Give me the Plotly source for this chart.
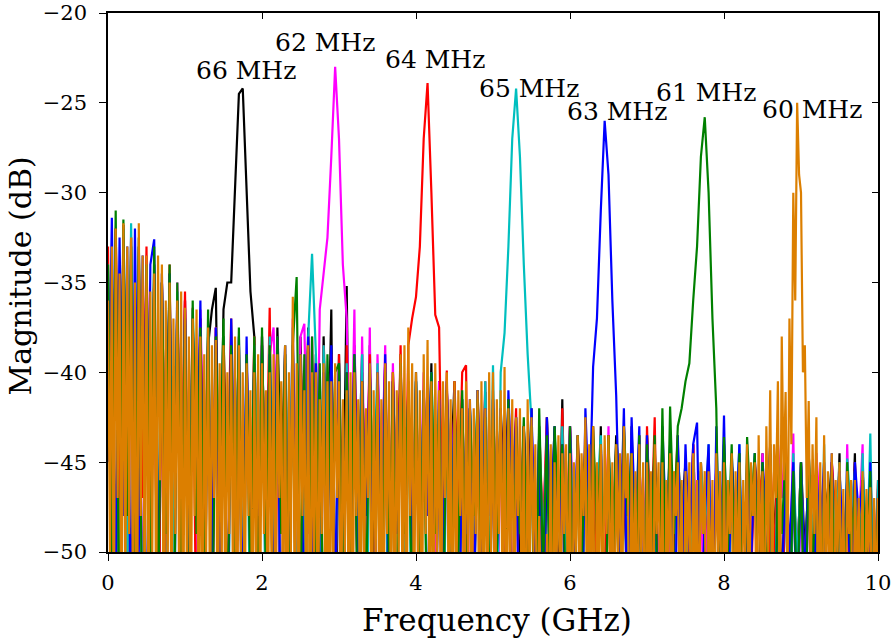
import plotly.graph_objects as go

# Frequency grids (GHz): 0.05 GHz spacing, and 0.025 GHz for the last-drawn (orange) trace
freq = [round(i * 0.05, 3) for i in range(201)]
freq_fine = [round(i * 0.025, 3) for i in range(401)]

black_66 = [
    -36, -47, -33, -55, -32.5, -50, -34, -58, -33, -46, -34.5, -52, -34, -60, -35, -49, -34.5, -54, -36, -51,
    -36, -56, -37.5, -48, -37, -53, -38.5, -36.5, -35.3, -50, -36.5, -35, -35, -30, -24.5, -24.2, -30, -35.5, -38, -52,
    -38, -49, -39, -57, -37.5, -46, -38.5, -53, -39, -59, -38, -48, -37.5, -51, -39, -55, -38, -47, -36.5, -61,
    -39, -50, -35.2, -54, -38.5, -47, -39, -58, -38.5, -52, -40, -46, -39.5, -60, -40, -49, -39, -55, -40.5, -51,
    -40, -53, -41, -48, -39.5, -57, -40.5, -50, -41, -46, -40.5, -59, -41.5, -52, -42, -55, -41, -49, -41.1, -56,
    -41.5, -50, -42, -47, -41.5, -58, -42.5, -52, -43, -48, -42, -54, -43.5, -60, -42.5, -49, -43, -53, -41.5, -57,
    -43, -51, -44, -56, -43.5, -48, -44, -53, -43, -59, -44, -50, -43.5, -47, -44.5, -55, -43, -52, -45, -58,
    -43.5, -49, -44.5, -54, -45, -57, -44, -51, -44.5, -48, -45, -60, -44, -52, -45.5, -50, -44.5, -56, -45, -53,
    -44, -55, -45, -50, -44.5, -58, -45.5, -48, -45, -53, -44.5, -61, -46, -49, -45, -52, -45.5, -57, -46, -51,
    -45, -50, -46, -54, -45.5, -59, -46, -48, -45, -52, -44.5, -56, -46, -51, -44.5, -60, -45.5, -49, -46, -55,
    -47,
]

magenta_62 = [
    -35, -52, -32, -48, -33, -57, -32.5, -50, -34, -55, -33.5, -46, -35, -59, -34.5, -51, -36, -53, -35, -49,
    -36, -56, -37, -50, -36.5, -47, -38, -58, -37.5, -52, -38, -54, -39, -49, -38, -60, -39, -51, -38.5, -48,
    -38, -53, -39, -37.5, -45, -57, -38.5, -50, -37, -55, -38, -37.3, -49, -38, -52, -36.5, -34.5, -32.5, -28, -23,
    -27, -34, -37, -48, -36.5, -56, -38, -51, -37.5, -59, -39, -47, -38.5, -53, -39.5, -50, -40, -57, -40.5, -52,
    -41, -49, -40, -55, -41.5, -51, -40.5, -58, -41, -47, -42, -53, -41.5, -60, -42, -50, -42.5, -54, -42, -48,
    -42, -56, -43, -50, -42.5, -53, -43, -47, -43.5, -59, -42.5, -52, -44, -49, -43, -55, -43.5, -61, -44, -51,
    -43, -48, -44, -54, -43.5, -57, -44.5, -50, -44, -53, -43, -59, -44.5, -49, -44, -52, -43.5, -56, -45, -50,
    -44.5, -55, -45, -51, -44, -58, -45.5, -48, -44.5, -60, -45, -53, -44, -50, -45.5, -57, -44.5, -52, -45, -54,
    -44.5, -50, -45, -56, -44.5, -53, -45.5, -49, -45, -58, -44.5, -51, -45, -55, -44, -47, -43.5, -52, -43.4, -57,
    -45, -52, -45.5, -59, -44.5, -48, -46, -54, -45, -50, -45.5, -57, -44, -53, -46, -49, -44, -60, -45.5, -51,
    -46.5,
]

red_64 = [
    -33, -55, -32, -49, -31.8, -52, -32.5, -58, -34, -47, -33, -54, -34.5, -60, -35, -50, -34, -53, -36, -48,
    -35.5, -51, -36.4, -57, -37, -49, -38, -54, -37.5, -59, -38, -46, -37, -52, -38.5, -56, -39, -50, -38, -55,
    -38.5, -48, -36.4, -53, -38, -60, -39, -50, -38.5, -56, -39, -47, -38, -52, -39.5, -58, -38.5, -49, -39, -54,
    -39, -57, -38.5, -50, -39.5, -55, -40, -48, -39, -59, -40.5, -51, -39.5, -54, -40, -49, -38.5, -52, -38.5, -37,
    -35.8, -33, -27, -23.9, -30, -36.8, -37.5, -50, -39.9, -56, -40.5, -48, -40, -39.6, -58, -53, -41, -49, -40.5, -55,
    -41, -50, -42, -54, -41.5, -47, -42, -59, -43, -52, -42.5, -56, -43, -49, -42.5, -53, -43.5, -60, -42, -51,
    -43, -55, -43.5, -48, -44, -57, -43, -51, -44, -53, -43.5, -60, -44, -49, -43, -54, -44.5, -50, -43.5, -58,
    -43, -50, -42.5, -56, -44, -53, -44.5, -48, -43.5, -59, -45, -51, -44, -55, -45, -49, -44.5, -57, -45, -52,
    -44.5, -54, -45, -49, -45.5, -58, -44.5, -52, -45, -47, -45.5, -60, -44.5, -50, -45, -55, -46, -53, -45.5, -51,
    -45, -56, -44.5, -50, -45.5, -53, -46, -59, -45, -48, -45.5, -54, -46, -57, -45, -51, -46.5, -60, -45.5, -52,
    -46,
]

cyan_65 = [
    -34, -49, -33, -56, -32, -52, -31.7, -47, -33.5, -58, -34, -53, -35, -50, -34.5, -60, -36, -51, -35.5, -55,
    -37, -53, -36.5, -48, -38, -57, -37.5, -50, -39, -55, -38, -59, -39.5, -49, -38, -52, -39, -56, -38.5, -47,
    -39, -54, -38, -50, -39.5, -58, -38.5, -48, -37.5, -55, -39, -51, -38, -33.4, -39, -57, -38.5, -49, -39.5, -53,
    -40, -56, -39.5, -49, -40, -52, -39, -60, -40.5, -47, -39.5, -54, -40, -58, -41, -50, -40.5, -53, -41, -57,
    -40.5, -51, -41, -55, -40, -48, -41.5, -59, -41, -53, -42, -50, -41.5, -57, -42, -49, -41, -54, -40.5, -52,
    -39.6, -55, -40, -37.8, -33, -27, -24.2, -28, -34, -39, -42.8, -58, -43, -50, -43.5, -54, -44, -60, -43, -52,
    -43.5, -49, -44, -56, -43, -53, -44.5, -47, -43.5, -59, -44, -51, -44.5, -55, -43.5, -50, -44, -57, -44.5, -54,
    -44, -52, -45, -58, -44.5, -48, -45, -55, -44, -50, -45.5, -60, -44.5, -53, -45, -49, -44, -56, -45, -51,
    -44.5, -57, -45, -50, -44, -54, -45.5, -48, -44.5, -59, -45, -52, -44.5, -55, -45, -49, -45.5, -58, -44.5, -51,
    -45, -53, -44.5, -49, -46, -56, -44, -60, -45.5, -50, -45, -54, -44.8, -48, -45.5, -57, -44.5, -52, -43.4, -55,
    -46,
]

blue_63 = [
    -45, -31.4, -52, -32.5, -48, -33, -56, -32, -50, -33.5, -58, -34, -32.6, -53, -35, -49, -34.5, -60, -36, -51,
    -36.5, -55, -37, -48, -36, -57, -38, -50, -37.5, -53, -38.5, -59, -37, -47, -38.5, -54, -38, -51, -39.5, -56,
    -38.5, -49, -39, -54, -38, -58, -39.5, -51, -38.5, -47, -39, -56, -38, -52, -39.5, -60, -40, -50, -38.5, -53,
    -39.5, -57, -40, -50, -39, -55, -40.5, -48, -39.5, -59, -40, -52, -39, -54, -40.5, -49, -40, -56, -41, -51,
    -40.5, -53, -41, -48, -40, -58, -41.5, -50, -40.5, -55, -41, -60, -42, -49, -41.5, -54, -41, -52, -42, -57,
    -41.5, -50, -42, -55, -41, -48, -42.5, -59, -43, -53, -42, -51, -43.5, -57, -42.5, -49, -43, -54, -44, -60,
    -43, -52, -43.5, -56, -42, -48, -39.7, -37, -31, -26, -29, -36, -41.3, -50, -42, -55, -42.5, -49, -43, -58,
    -43.5, -51, -44, -56, -43, -49, -44, -59, -43.5, -53, -44, -50, -44, -42.8, -55, -48, -44, -57, -43, -52,
    -42.4, -54, -44.5, -49, -44, -58, -45, -51, -44.5, -56, -45, -48, -44, -60, -45.5, -53, -44.5, -50, -45, -55,
    -45, -52, -44.5, -57, -45.5, -49, -45, -55, -44.5, -59, -45.5, -50, -46, -53, -45, -48, -46, -56, -45, -60,
    -47,
]

green_61 = [
    -34, -50, -31, -57, -31.5, -48, -33, -54, -32.5, -59, -34, -51, -33, -55, -35, -49, -34, -60, -35, -52,
    -37, -56, -36, -49, -37.5, -53, -36.5, -58, -38, -47, -37, -55, -38.5, -50, -37.5, -60, -39, -52, -38, -54,
    -37.5, -51, -38.5, -57, -38, -49, -39, -55, -38.5, -34.7, -53, -39, -59, -38, -50, -39.5, -56, -39, -48, -40,
    -39.5, -55, -40, -50, -39, -58, -40.5, -53, -40, -48, -41, -60, -40, -51, -40.5, -56, -39.5, -49, -41, -54,
    -40.5, -52, -41, -57, -40, -49, -42, -55, -41, -59, -41.5, -50, -41, -54, -42, -48, -41.5, -58, -42.5, -53,
    -42, -50, -42.5, -55, -41.5, -58, -43, -49, -42.5, -53, -43, -60, -42, -51, -43.5, -56, -43, -48, -44, -54,
    -43, -57, -43.5, -51, -44, -54, -43, -49, -44, -59, -43.5, -52, -44, -56, -43, -48, -44.5, -53, -43.5, -60,
    -44, -51, -43.5, -56, -42, -53, -41.9, -49, -43, -42, -40.5, -39.5, -36, -33, -28, -25.8, -30, -37, -42, -55,
    -43.6, -50, -44, -54, -44.5, -58, -43.6, -48, -44.5, -56, -45, -52, -44, -60, -45, -49, -44.5, -55, -45.5, -53,
    -45, -57, -44.5, -51, -45.5, -59, -46, -49, -45.5, -54, -46, -60, -45, -50, -46.5, -56, -46, -52, -45.5, -58,
    -47,
]

# orange trace sampled on freq_fine (401 points)
orange_60 = [
    -36, -50, -33, -56, -32, -47, -34.5, -58, -31.7, -52, -33, -49, -32.5, -55, -35, -60, -31.7, -48, -33.5, -53,
    -33.5, -57, -35.5, -50, -34.5, -54, -33.5, -46, -34, -59, -36, -51, -35, -56, -37, -49, -36, -53, -35.5, -58,
    -36.4, -52, -38, -57, -37, -48, -36.5, -55, -38, -60, -39, -50, -37.5, -54, -38.5, -47, -38.2, -58, -39.5, -51,
    -38.5, -56, -40, -49, -39, -53, -38, -59, -38.5, -50, -40, -55, -39.5, -48, -41, -57, -40, -52, -39, -54,
    -39.5, -49, -41, -56, -40, -51, -39, -58, -39, -47, -40.5, -55, -38.5, -60, -40, -50, -35.8, -53, -39.5, -57,
    -39, -48, -41, -54, -38.5, -59, -40, -51, -40, -56, -41.5, -49, -39.5, -55, -40.5, -60, -40.5, -52, -39.5, -47,
    -40.5, -57, -41.5, -50, -41, -54, -40, -59, -40, -48, -41.5, -56, -40.5, -52, -42, -47, -39.5, -58, -41, -51,
    -40, -55, -41.5, -60, -39.5, -49, -40.5, -54, -40, -57, -41, -50, -39, -53, -38.5, -59, -37.5, -48, -39.5, -55,
    -40, -51, -41, -58, -39, -49, -38.2, -54, -40.5, -60, -39.5, -50, -41, -56, -40.5, -47, -40, -53, -41.5, -59,
    -40.5, -52, -41, -48, -42, -57, -40.5, -51, -41.5, -55, -42, -49, -41, -60, -40.5, -53, -42, -56, -40, -50,
    -40, -57, -41.5, -49, -41, -54, -39.7, -59, -42, -51, -41.5, -56, -42.5, -48, -42, -55, -43, -60, -41.5, -52,
    -42.5, -50, -44, -57, -48, -53, -50, -60, -49, -55, -44, -58, -45, -51, -43.5, -56, -44.5, -49, -44, -54,
    -44.5, -59, -45, -50, -43.5, -55, -44.5, -48, -42.5, -57, -44, -52, -43, -60, -45, -51, -44, -56, -43.5, -49,
    -43.5, -54, -45, -58, -44, -50, -44.5, -55, -43, -47, -44.5, -59, -44.5, -53, -45.5, -56, -44, -50, -45, -57,
    -45, -52, -45.5, -58, -44, -49, -45, -55, -45, -60, -46, -51, -44.5, -56, -45.5, -48, -45, -54, -46, -59,
    -45.5, -50, -45, -57, -44.5, -52, -46, -55, -45, -49, -45.5, -60, -45.5, -53, -46, -56, -44.5, -50, -45.5, -58,
    -45, -54, -46, -49, -44.5, -57, -45.5, -52, -45, -59, -46, -50, -44, -55, -45, -48, -45, -56, -43.5, -51,
    -45.5, -58, -43, -50, -41, -53, -44, -47, -40.5, -55, -38, -46, -41.1, -52, -37, -44, -30, -36, -25, -29,
    -30, -40, -38.5, -47, -41.6, -52, -44, -49, -42.5, -56, -45, -58, -43.5, -51, -45.5, -55, -44.5, -60, -46, -50,
    -45, -54, -46.5, -57, -45.5, -49, -46, -59, -46, -52, -47, -55, -45.5, -60, -46.5, -50, -46.4, -56, -47, -53,
    -47,
]

series = [
    ("66 MHz", freq, black_66, "#000000"),
    ("62 MHz", freq, magenta_62, "#ff00ff"),
    ("64 MHz", freq, red_64, "#ff0000"),
    ("65 MHz", freq, cyan_65, "#00bfbf"),
    ("63 MHz", freq, blue_63, "#0000ff"),
    ("61 MHz", freq, green_61, "#008000"),
    ("60 MHz", freq_fine, orange_60, "#dc7f00"),
]

# label positions (GHz, dB)
label_x = [1.79, 2.82, 4.25, 5.47, 6.61, 7.77, 9.14]
label_y = [-23.2, -21.65, -22.6, -24.2, -25.5, -24.45, -25.35]
label_text = ["66 MHz", "62 MHz", "64 MHz", "65 MHz", "63 MHz", "61 MHz", "60 MHz"]

x_ticks = [0, 2, 4, 6, 8, 10]
y_ticks = [-50, -45, -40, -35, -30, -25, -20]

FONT = "DejaVu Serif"

fig = go.Figure()
for name, xs, vals, col in series:
    fig.add_trace(go.Scatter(x=xs, y=vals, mode="lines", name=name,
                             line=dict(color=col, width=2.2), showlegend=False,
                             hoverinfo="skip"))

# empty trace to activate the mirrored frame axes (top/right)
fig.add_trace(go.Scatter(x=[None], y=[None], xaxis="x2", yaxis="y2",
                         showlegend=False, hoverinfo="skip"))

for lx, ly, lt in zip(label_x, label_y, label_text):
    fig.add_annotation(x=lx, y=ly, text=lt, showarrow=False,
                       font=dict(family=FONT, size=25, color="black"))

fig.add_annotation(x=0.5, y=0, xref="paper", yref="paper", text="Frequency (GHz)",
                   showarrow=False, xanchor="center", yanchor="middle", xshift=4, yshift=-68,
                   font=dict(family=FONT, size=31, color="black"))
fig.add_annotation(x=0, y=0.5, xref="paper", yref="paper", text="Magnitude (dB)",
                   showarrow=False, textangle=-90, xanchor="center", yanchor="middle",
                   xshift=-88, yshift=6,
                   font=dict(family=FONT, size=30, color="black"))

axis_common = dict(showline=True, linecolor="black", linewidth=1.6, showgrid=False,
                   zeroline=False, automargin=False, tickcolor="black", tickwidth=1.3)

fig.update_layout(
    width=892, height=638,
    margin=dict(l=108, r=14, t=13, b=86),
    paper_bgcolor="white", plot_bgcolor="white",
    font=dict(family=FONT, size=21, color="black"),
    xaxis=dict(range=[0, 10], tickvals=x_ticks, ticks="outside", ticklen=7,
               layer="below traces", ticklabelstandoff=4, ticklabeloverflow="allow",
               tickfont=dict(family=FONT, size=21), **axis_common),
    yaxis=dict(range=[-50, -20], tickvals=y_ticks, ticks="outside", ticklen=7,
               ticklabelstandoff=8, ticklabeloverflow="allow",
               tickfont=dict(family=FONT, size=21), **axis_common),
    xaxis2=dict(overlaying="x", side="top", range=[0, 10], tickvals=x_ticks,
                ticks="inside", ticklen=6, showticklabels=False, **axis_common),
    yaxis2=dict(overlaying="y", side="right", range=[-50, -20], tickvals=y_ticks,
                ticks="inside", ticklen=6, showticklabels=False, **axis_common),
)

# remove the page's default body margin so the 892x638 figure fills the window exactly
fig.write_html("out.html", config={"displayModeBar": False},
               post_script="document.body.style.margin='0';")
